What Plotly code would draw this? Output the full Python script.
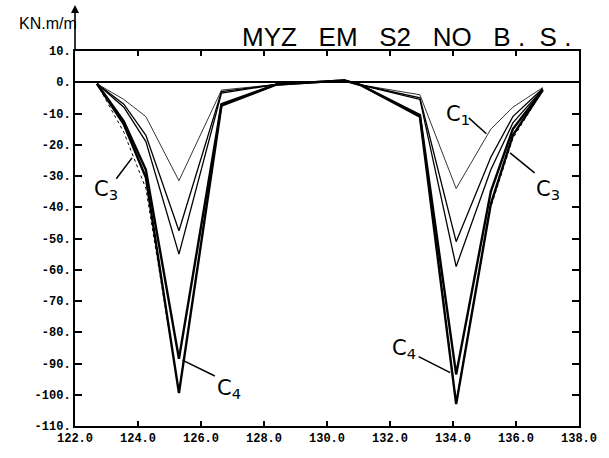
import plotly.graph_objects as go

# Stations (x) and moment values (KN.m/m) for each case
x_st = [122.7, 123.55, 124.25, 125.3, 126.65, 128.4, 130.55, 131.05, 132.95, 134.1, 135.2, 135.9, 136.85]
c1  = [-0.5, -5.5, -11.0, -31.5, -2.5, -0.7, 0.6, -0.8, -4.0, -34.0, -15.0, -8.0, -1.7]
c2  = [-0.5, -7.0, -17.0, -47.5, -3.0, -0.7, 0.6, -0.8, -5.0, -51.0, -24.0, -11.0, -2.0]
c2b = [-0.5, -8.0, -19.0, -55.0, -3.5, -0.7, 0.6, -0.8, -5.5, -59.0, -28.0, -13.0, -2.2]
c3  = [-0.5, -16.0, -34.0, -99.0, -7.5, -0.7, 0.6, -0.8, -11.0, -102.0, -40.0, -18.0, -2.5]
c4a = [-0.5, -12.5, -28.0, -88.5, -7.0, -0.7, 0.6, -0.8, -10.5, -93.5, -35.0, -15.0, -2.5]
c4b = [-0.5, -13.5, -30.5, -99.5, -7.5, -0.7, 0.6, -0.8, -11.0, -103.0, -39.0, -17.0, -2.5]

y_ticks = [10, 0, -10, -20, -30, -40, -50, -60, -70, -80, -90, -100, -110]
y_ticktext = ["10.", "0.", "-10.", "-20.", "-30.", "-40.", "-50.", "-60.", "-70.", "-80.", "-90.", "-100.", "-110."]
x_ticks = [122, 124, 126, 128, 130, 132, 134, 136, 138]
x_ticktext = ["122.0", "124.0", "126.0", "128.0", "130.0", "132.0", "134.0", "136.0", "138.0"]

series = [
    ("C1", c1, 0.8, "solid"),
    ("C2", c2, 1.3, "solid"),
    ("C2b", c2b, 1.3, "solid"),
    ("C3", c3, 1.0, "dot"),
    ("C4a", c4a, 2.4, "solid"),
    ("C4b", c4b, 2.4, "solid"),
]

fig = go.Figure()
for name, vals, w, dash in series:
    fig.add_trace(go.Scatter(x=x_st, y=vals, mode="lines", name=name,
                             line=dict(color="black", width=w, dash=dash)))

tickfont = dict(family="Liberation Mono, DejaVu Sans Mono, monospace", size=12, color="black", weight="bold")

fig.update_layout(
    width=609, height=458,
    margin=dict(l=75, r=22, t=51, b=31),
    paper_bgcolor="white", plot_bgcolor="white",
    showlegend=False,
    xaxis=dict(range=[122, 138], tickvals=x_ticks, ticktext=x_ticktext,
               showgrid=False, zeroline=False, showline=True, linecolor="black",
               linewidth=2, mirror="ticks", ticks="inside", ticklen=5, tickwidth=1.5,
               tickcolor="black", tickfont=tickfont),
    yaxis=dict(range=[-110, 10], tickvals=y_ticks, ticktext=y_ticktext,
               showgrid=False, zeroline=True, zerolinecolor="black", zerolinewidth=1.6,
               showline=True, linecolor="black", linewidth=2, mirror="ticks",
               ticks="inside", ticklen=7, tickwidth=1.5, tickcolor="black",
               tickfont=tickfont),
)

# Title and unit label
fig.add_annotation(text="MYZ\u00a0\u00a0\u00a0EM\u00a0\u00a0\u00a0S2\u00a0\u00a0\u00a0NO\u00a0\u00a0\u00a0B\u00a0.\u00a0\u00a0S\u00a0.",
                   xref="paper", yref="paper", x=0.988, y=1.0, xanchor="right", yanchor="bottom",
                   showarrow=False, yshift=-3,
                   font=dict(family="Liberation Sans, Arial, sans-serif", size=26, color="black"))
fig.add_annotation(text="KN.m/m", xref="paper", yref="paper", x=0.0, y=1.0,
                   xanchor="right", yanchor="bottom", showarrow=False, xshift=4, yshift=17,
                   font=dict(family="Liberation Sans Narrow, Liberation Sans, sans-serif", size=16, color="black"))
# Y-axis arrow
fig.add_annotation(text="", xref="paper", yref="paper", x=0.0, y=1 + 46 / 376,
                   ax=0, ay=46, showarrow=True, arrowhead=2, arrowsize=1, arrowwidth=1.6,
                   arrowcolor="black")

# Curve labels with leader lines
lab_font = dict(family="DejaVu Sans, sans-serif", size=21, color="black")
labels = [
    ("C<sub>3</sub>", 122.97, -34.4, (123.31, -30.9), (123.81, -24.2)),
    ("C<sub>4</sub>", 126.9, -98.2, (126.44, -94.0), (125.41, -88.9)),
    ("C<sub>4</sub>", 132.45, -85.5, (132.91, -87.8), (133.91, -92.9)),
    ("C<sub>1</sub>", 134.16, -10.4, (134.5, -11.4), (135.06, -16.5)),
    ("C<sub>3</sub>", 137.0, -34.4, (136.59, -29.0), (135.81, -22.6)),
]
for txt, lx, ly, p0, p1 in labels:
    fig.add_annotation(text=txt, x=lx, y=ly, xref="x", yref="y", showarrow=False, font=lab_font)
    fig.add_shape(type="line", xref="x", yref="y", x0=p0[0], y0=p0[1], x1=p1[0], y1=p1[1],
                  line=dict(color="black", width=1.5))

fig.write_html("out.html")
